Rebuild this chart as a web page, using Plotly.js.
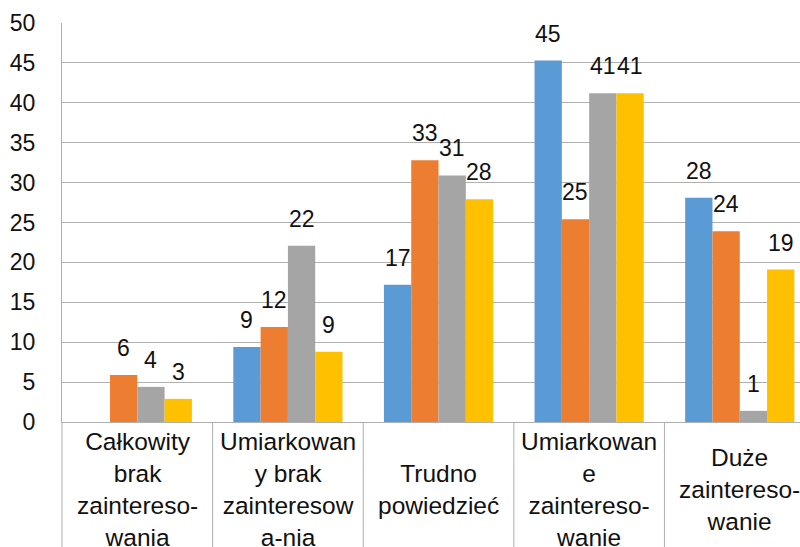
<!DOCTYPE html>
<html>
<head>
<meta charset="utf-8">
<script src="https://cdn.plot.ly/plotly-3.0.1.min.js"></script>
<style>html,body{margin:0;padding:0;overflow:hidden;background:#fff}</style>
</head>
<body>
<div id="chart" style="width:800px;height:547px"></div>
<script>
// Data
var categories = ["Całkowity brak zainteresowania", "Umiarkowany brak zainteresowania", "Trudno powiedzieć", "Umiarkowane zainteresowanie", "Duże zainteresowanie"];
var categoryLabels = [
  "Całkowity<br>brak<br>zaintereso-<br>wania",
  "Umiarkowan<br>y brak<br>zainteresow<br>a-nia",
  "Trudno<br>powiedzieć",
  "Umiarkowan<br>e<br>zaintereso-<br>wanie",
  "Duże<br>zaintereso-<br>wanie"
];
var series1 = [null, 9.4, 17.2, 45.3, 28.1];
var series2 = [5.9, 11.9, 32.8, 25.4, 23.9];
var series3 = [4.4, 22.1, 30.9, 41.2, 1.4];
var series4 = [2.9, 8.8, 27.9, 41.2, 19.1];
var yTickVals = [0, 5, 10, 15, 20, 25, 30, 35, 40, 45, 50];

var allSeries = [series1, series2, series3, series4];
var colors = ["#5B9BD5", "#ED7D31", "#A5A5A5", "#FFC000"];
var bargap = 0.275;
var xRange = [-0.5, 4.4];
var gridColor = "#B0B0B0";
var FONT = "Liberation Sans, Arial, sans-serif";

var traces = allSeries.map(function (s, i) {
  return {
    type: "bar",
    x: categories,
    y: s,
    marker: { color: colors[i] },
    hoverinfo: "skip",
    showlegend: false
  };
});

var annotations = [];
var bw = (1 - bargap) / allSeries.length;
allSeries.forEach(function (s, i) {
  s.forEach(function (v, j) {
    if (v === null) return;
    annotations.push({
      x: j + (i - (allSeries.length - 1) / 2) * bw,
      y: v,
      xref: "x", yref: "y",
      text: String(Math.round(v)),
      showarrow: false,
      yanchor: "middle",
      yshift: 27,
      font: { family: FONT, size: 23, color: "#111" }
    });
  });
});
categoryLabels.forEach(function (t, j) {
  annotations.push({
    x: j, y: -0.17, xref: "x", yref: "paper",
    text: t, showarrow: false, yanchor: "middle", xanchor: "center",
    font: { family: FONT, size: 24.5, color: "#111" }
  });
});

var shapes = [];
var span = xRange[1] - xRange[0];
for (var k = 0; k < categories.length; k++) {
  var xp = (k - 0.5 - xRange[0]) / span;
  shapes.push({
    type: "line", xref: "paper", yref: "paper",
    x0: xp, x1: xp, y0: 0, y1: -0.32,
    line: { color: gridColor, width: 1 }
  });
}

var layout = {
  width: 800, height: 547,
  margin: { l: 62, r: 0, t: 23, b: 125 },
  paper_bgcolor: "#fff", plot_bgcolor: "#fff",
  barmode: "group", bargap: bargap, bargroupgap: 0,
  font: { family: FONT, size: 23, color: "#111" },
  xaxis: {
    type: "category", range: xRange, showticklabels: false,
    showgrid: false, showline: true, linecolor: gridColor, linewidth: 1,
    ticks: "", zeroline: false, fixedrange: true
  },
  yaxis: {
    range: [0, 50], tickvals: yTickVals, ticktext: yTickVals.map(String),
    showgrid: true, gridcolor: gridColor, gridwidth: 1,
    showline: true, linecolor: gridColor, linewidth: 1,
    zeroline: false, ticks: "", ticklabelstandoff: 21,
    tickfont: { family: FONT, size: 23, color: "#111" }, fixedrange: true
  },
  annotations: annotations,
  shapes: shapes
};

Plotly.newPlot("chart", traces, layout, { displayModeBar: false, staticPlot: true });
</script>
</body>
</html>
